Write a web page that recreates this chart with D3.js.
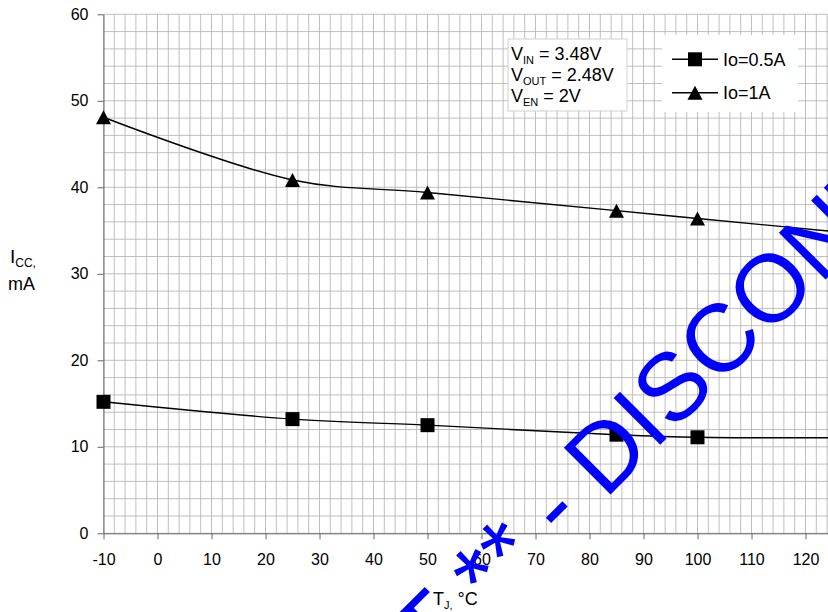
<!DOCTYPE html>
<html>
<head>
<meta charset="utf-8">
<script src="https://cdn.jsdelivr.net/npm/d3@7"></script>
<style>
  body { margin: 0; background: #fff; }
  svg { display: block; font-family: Arial, "Liberation Sans", sans-serif; }
</style>
</head>
<body>
<div id="chart"></div>
<script>
// data
const temps = [-10, 25, 50, 85, 100, 130];
const icc05 = [15.2, 13.2, 12.5, 11.4, 11.1, 11.05];
const icc1 = [48.1, 40.85, 39.4, 37.3, 36.4, 34.6];
const seriesNames = ["Io=0.5A", "Io=1A"];
const xTicks = d3.range(-10, 131, 10);
const yTicks = d3.range(0, 61, 10);
const notes = [["V", "IN", " = 3.48V"], ["V", "OUT", " = 2.48V"], ["V", "EN", " = 2V"]];
const watermark = "** - DISCONTINUED";

const W = 828, H = 612;

const svg = d3.select("#chart")
  .append("svg")
  .attr("width", W)
  .attr("height", H)
  .style("overflow", "hidden");

const x = d3.scaleLinear().domain([-10, 130]).range([103.5, 859.5]);
const y = d3.scaleLinear().domain([0, 60]).range([533.3, 14.3]);

// grid (every 2 units)
const grid = svg.append("g").attr("stroke", "#b8b8b8").attr("stroke-width", 0.9);
grid.selectAll("line.v")
  .data(d3.range(-10, 131, 2))
  .join("line")
  .attr("class", "v")
  .attr("x1", d => x(d)).attr("x2", d => x(d))
  .attr("y1", y(60)).attr("y2", y(0));
grid.selectAll("line.h")
  .data(d3.range(0, 61, 2))
  .join("line")
  .attr("class", "h")
  .attr("x1", x(-10)).attr("x2", x(130))
  .attr("y1", d => y(d)).attr("y2", d => y(d));

// axes (plain hyphen for negatives, like the original)
const fmt = d => String(d);
const yAxis = svg.append("g")
  .attr("transform", `translate(${x(-10)},0)`)
  .call(d3.axisLeft(y).tickValues(yTicks).tickFormat(fmt).tickSize(6).tickSizeOuter(0).tickPadding(9));
const xAxis = svg.append("g")
  .attr("transform", `translate(0,${y(0)})`)
  .call(d3.axisBottom(x).tickValues(xTicks).tickFormat(fmt).tickSize(6).tickSizeOuter(0).tickPadding(14));

[xAxis, yAxis].forEach(a => {
  a.select(".domain").attr("stroke", "#666");
  a.selectAll(".tick line").attr("stroke", "#666");
  a.selectAll(".tick text")
    .attr("fill", "#000")
    .style("font-size", "16px")
    .style("font-family", "Arial, 'Liberation Sans', sans-serif");
});

// axis titles
const yl = svg.append("text").attr("x", 10).attr("y", 263).style("font-size", "19px");
yl.append("tspan").text("I");
yl.append("tspan").attr("dy", 4).style("font-size", "12px").text("CC,");
svg.append("text").attr("x", 8).attr("y", 290).style("font-size", "18px").text("mA");

const xl = svg.append("text").attr("x", 433).attr("y", 605).style("font-size", "18px");
xl.append("tspan").text("T");
xl.append("tspan").attr("dy", 4).style("font-size", "11px").text("J,");
xl.append("tspan").attr("dy", -4).text(" °C");

// series
const line = d3.line()
  .x(d => x(d[0]))
  .y(d => y(d[1]))
  .curve(d3.curveCatmullRom);

const series = [
  { name: seriesNames[0], values: d3.zip(temps, icc05), marker: "square" },
  { name: seriesNames[1], values: d3.zip(temps, icc1), marker: "triangle" }
];

const markerPath = {
  square: "M-7,-7H7V7H-7Z",
  triangle: "M0,-7L7.5,7L-7.5,7Z"
};

series.forEach(s => {
  svg.append("path")
    .datum(s.values)
    .attr("d", line)
    .attr("fill", "none")
    .attr("stroke", "#000")
    .attr("stroke-width", 1.4);

  svg.selectAll(null)
    .data(s.values)
    .join("path")
    .attr("d", markerPath[s.marker])
    .attr("transform", d => `translate(${x(d[0])},${y(d[1])})`)
    .attr("fill", "#000");
});

// conditions box
svg.append("rect")
  .attr("x", 508).attr("y", 39)
  .attr("width", 119).attr("height", 72)
  .attr("fill", "#fff")
  .attr("stroke", "#d0d0d0");

notes.forEach((n, i) => {
  const t = svg.append("text")
    .attr("x", 511)
    .attr("y", 60 + i * 21)
    .style("font-size", "18px");
  t.append("tspan").text(n[0]);
  t.append("tspan").attr("dy", 4).style("font-size", "11px").text(n[1]);
  t.append("tspan").attr("dy", -4).text(n[2]);
});

// legend
const legend = svg.append("g");
legend.append("rect")
  .attr("x", 662).attr("y", 35)
  .attr("width", 136).attr("height", 77)
  .attr("fill", "#fff");

series.forEach((s, i) => {
  const ly = 59.3 + i * 33.4;
  legend.append("line")
    .attr("x1", 672).attr("x2", 718)
    .attr("y1", ly).attr("y2", ly)
    .attr("stroke", "#000").attr("stroke-width", 1.4);
  legend.append("path")
    .attr("d", markerPath[s.marker])
    .attr("transform", `translate(695,${ly})`)
    .attr("fill", "#000");
  legend.append("text")
    .attr("x", 723)
    .attr("y", ly + 6.5)
    .style("font-size", "18px")
    .text(s.name);
});

// watermark
const wm = svg.append("g")
  .attr("transform", "translate(491.8,613.2) rotate(-45)")
  .attr("fill", "#0000ff")
  .style("font-size", "96px");
wm.append("text").attr("x", 0).attr("y", 0).text(watermark);
wm.append("text").attr("x", -26.7).attr("y", 0).attr("text-anchor", "end").text("PRODUCT");
</script>
</body>
</html>
